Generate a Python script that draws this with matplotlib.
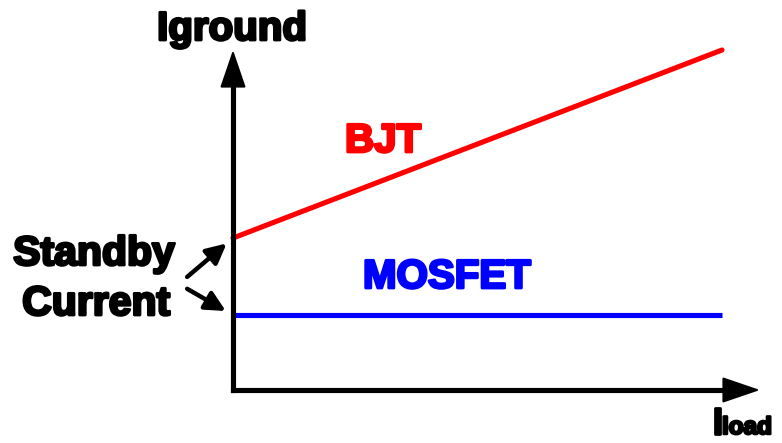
import matplotlib
matplotlib.use("Agg")
import matplotlib.pyplot as plt
import matplotlib.patheffects as pe

# ---- data ----
load = [0, 10]
bjt = [4.47, 10.0]
mosfet = [2.2, 2.2]
x_label = "I"
x_label_sub = "load"
y_label = "Iground"
bjt_label = "BJT"
mosfet_label = "MOSFET"

W, H = 782, 443
fig = plt.figure(figsize=(W / 100, H / 100), dpi=100)
ax = fig.add_axes([0, 0, 1, 1])
ox, oy = 233, 390          # pixel of origin
sx, sy = 48.9, 34.0        # pixels per data unit
ax.set_xlim(-ox / sx, (W - ox) / sx)
ax.set_ylim(-(H - oy) / sy, oy / sy)
ax.axis("off")


def px(x, y):
    return ((x - ox) / sx, (oy - y) / sy)


font = "Liberation Sans"

# axes with arrows
axlw = 3.7
ax.plot([0, 0], [0, px(0, 86)[1]], color="black", lw=axlw, solid_capstyle="projecting", zorder=3)
ax.plot([0, px(726, 0)[0]], [0, 0], color="black", lw=axlw, solid_capstyle="projecting", zorder=3)
ax.annotate("", xy=px(ox, 50), xytext=px(ox, 88),
            arrowprops=dict(arrowstyle="-|>,head_length=2.4,head_width=0.82",
                            mutation_scale=10, color="black", lw=1.5,
                            shrinkA=0, shrinkB=0), zorder=3)
ax.annotate("", xy=px(760, oy), xytext=px(724, oy),
            arrowprops=dict(arrowstyle="-|>,head_length=2.4,head_width=0.82",
                            mutation_scale=10, color="black", lw=1.5,
                            shrinkA=0, shrinkB=0), zorder=3)

# series
ax.plot(load, bjt, color="#ff0000", lw=3.7, solid_capstyle="round", zorder=2)
ax.plot(load, mosfet, color="#0000ff", lw=3.7, solid_capstyle="butt", zorder=2)

# labels
def label(x, y, s, size, color="black", ha="left", sw=2.0, **kw):
    t = ax.text(*px(x, y), s, fontsize=size, fontweight="bold", family=font,
                color=color, ha=ha, va="baseline",
                path_effects=[pe.withStroke(linewidth=sw, foreground=color)], **kw)
    return t

label(232, 40, y_label, 29, ha="center")
label(345, 152, bjt_label, 29, color="#ff0000")
label(363, 288, mosfet_label, 29, color="#0000ff")
label(94, 265, "Standby", 29.5, ha="center")
label(96, 315, "Current", 29.5, ha="center")
label(712, 434, x_label, 27)
label(722, 434, x_label_sub, 17.5, sw=1.8)

# standby arrows
arr = dict(arrowstyle="-|>,head_length=1.2,head_width=0.6", mutation_scale=10,
           color="black", lw=3.2, shrinkA=0, shrinkB=6)
ax.annotate("", xy=(0, bjt[0]), xytext=(-33, -28), textcoords="offset points",
            arrowprops=arr)
ax.annotate("", xy=(0, mosfet[0]), xytext=(-33, 19), textcoords="offset points",
            arrowprops=arr)

fig.savefig("out.png", dpi=100)
